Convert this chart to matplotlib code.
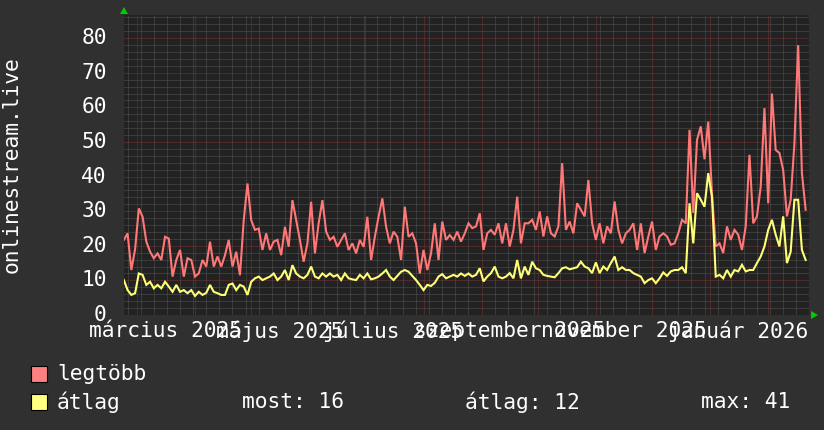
import numpy as np
import matplotlib
matplotlib.use("Agg")
import matplotlib.pyplot as plt
import matplotlib.dates as mdates
from matplotlib.patches import Polygon, Rectangle
import datetime as dt

# ---------------- data ----------------
start_date = "2025-02-22"
step_days = 2

legtobb = [
    21.7, 23.6, 13.0, 19.0, 30.8, 28.4, 21.2, 18.3, 16.4, 17.8,
    15.9, 22.6, 22.1, 11.1, 15.9, 18.8, 11.1, 16.4, 15.9, 11.1,
    12.0, 15.9, 14.0, 21.2, 14.0, 16.9, 14.0, 17.3, 21.7, 14.0,
    18.3, 11.5, 27.4, 38.0, 27.4, 24.6, 25.0, 18.8, 23.6, 18.8,
    21.2, 21.7, 17.3, 25.5, 19.7, 33.2, 27.4, 21.7, 15.4, 20.7,
    32.7, 17.8, 26.5, 33.2, 24.1, 21.7, 22.6, 19.7, 21.7, 23.6,
    18.8, 20.7, 17.8, 21.7, 19.7, 28.4, 15.9, 22.6, 28.4, 33.7,
    25.5, 20.7, 24.1, 22.6, 15.9, 31.3, 22.6, 23.6, 20.7, 12.0,
    18.8, 13.0, 17.8, 26.5, 15.9, 27.0, 21.7, 23.1, 21.7, 24.1,
    21.2, 23.6, 26.5,
    25.1, 25.6, 29.4, 18.8, 23.6, 24.6, 23.2, 26.5, 20.7, 26.5,
    19.8, 24.6, 34.2, 20.7, 26.5, 26.5, 27.5, 24.6, 29.9, 22.7,
    28.5, 23.6, 22.7, 25.6, 43.9, 24.6, 27.0, 23.6, 32.3, 30.4,
    28.5, 39.0, 26.5, 21.7, 26.5, 20.7, 25.6, 23.6, 32.8, 24.6,
    20.7, 23.6, 24.6, 26.5, 18.8, 26.5, 17.9, 22.7, 27.0, 18.8,
    22.7, 23.6, 22.7, 20.3, 20.7, 23.6, 27.5, 26.5, 53.5, 29.5,
    50.6, 54.5, 45.0, 55.9, 35.0, 19.8, 20.7, 17.9, 25.6, 21.7,
    24.6, 23.2, 18.8, 25.6, 46.3, 26.5, 28.5, 37.1, 59.8, 32.3,
    64.0, 47.7, 46.8, 41.9, 28.5, 33.3, 49.6, 78.0, 41.0, 30.4,
]

atlag = [
    10.1, 7.2, 5.8, 6.3, 12.0, 11.6, 8.7, 9.6, 7.7, 8.7,
    7.7, 9.6, 8.2, 6.7, 8.7, 6.7, 7.2, 6.3, 7.2, 5.5,
    6.7, 5.8, 6.4, 8.7, 6.7, 6.3, 5.8, 5.8, 8.7, 9.1,
    7.2, 8.7, 8.2, 5.8, 9.6, 10.6, 11.1, 10.1, 10.6, 11.1,
    12.0, 10.1, 11.1, 13.0, 10.1, 14.4, 12.0, 11.1, 10.6, 11.6,
    14.0, 11.1, 10.6, 12.0, 11.1, 12.0, 11.1, 11.6, 10.1, 12.0,
    10.6, 10.3, 10.1, 11.6, 10.6, 12.0, 10.3, 10.6, 11.1, 12.0,
    13.0, 11.1, 10.1, 11.3, 12.5, 13.0, 12.5, 11.3, 10.1, 8.7,
    7.2, 8.7, 8.4, 9.3, 11.1, 11.8, 10.6, 11.1, 11.6, 11.1,
    12.0, 11.3, 12.0,
    11.1, 11.6, 13.5, 9.7, 11.1, 12.1, 14.0, 11.1, 10.6, 11.1,
    12.1, 10.6, 15.9, 10.6, 14.0, 11.6, 15.4, 13.5, 13.0, 11.6,
    11.3, 11.1, 10.9, 12.1, 13.5, 13.8, 13.2, 13.5, 13.8, 15.4,
    14.0, 13.5, 12.1, 15.2, 12.1, 14.0, 13.0, 15.0, 16.9, 13.0,
    13.8, 13.0, 13.0, 12.1, 11.6, 11.1, 9.2, 10.1, 10.6, 9.2,
    10.6, 12.3, 11.3, 12.6, 13.0, 13.0, 13.8, 12.1, 32.3, 20.7,
    35.2, 33.3, 31.3, 41.0, 34.0, 11.1, 11.6, 10.6, 13.0, 11.1,
    13.0, 12.6, 14.5, 12.6, 13.0, 13.0, 15.0, 16.9, 19.8, 24.6,
    27.5, 23.2, 19.8, 28.5, 15.0, 18.3, 33.3, 33.3, 18.8, 15.9,
]

series_labels = ["legtöbb", "átlag"]
ylabel_text = "onlinestream.live"
month_labels = ["március 2025", "május 2025", "július 2025",
                "szeptember 2025", "november 2025", "január 2026"]
label_months = [(2025, 3), (2025, 5), (2025, 7), (2025, 9), (2025, 11), (2026, 1)]
stats_labels = ["most: 16", "átlag: 12", "max: 41"]
yticks = [0, 10, 20, 30, 40, 50, 60, 70, 80]

# ---------------- style ----------------
W, H = 824, 430
DPI = 100
BG = "#303030"
PLOT_BG = "#222222"
RED = "#ff7777"
YEL = "#ffff77"
MINOR = "#555555"
MAJOR = "#7a3333"
FONT = "DejaVu Sans Mono"
FS = 15.3

fig = plt.figure(figsize=(W / DPI, H / DPI), dpi=DPI, facecolor=BG)

px_left, px_right, px_top, px_bottom = 124, 809, 15, 315
ax = fig.add_axes([px_left / W, 1 - px_bottom / H,
                   (px_right - px_left) / W, (px_bottom - px_top) / H])
ax.set_facecolor(PLOT_BG)

start = dt.datetime.fromisoformat(start_date)
dates = [start + dt.timedelta(days=step_days * i) for i in range(len(legtobb))]
x0 = mdates.date2num(dt.datetime(2025, 2, 22, 2))
x1 = x0 + 365.7
ax.set_xlim(x0, x1)
ax.set_ylim(0, 86.7)

# grid: horizontal
lw_grid = 0.72
for v in np.arange(2, 87, 2):
    if v % 10 == 0:
        continue
    ax.axhline(v, color=MINOR, lw=lw_grid, ls=(0, (1, 1)), zorder=1)
# vertical weekly (Mondays)
d = dt.datetime(2025, 2, 24)
while mdates.date2num(d) < x1:
    if d.day != 1:
        ax.axvline(mdates.date2num(d), color=MINOR, lw=lw_grid, ls=(0, (1, 1)), zorder=1)
    d += dt.timedelta(days=7)
# major
for v in yticks[1:]:
    ax.axhline(v, color=MAJOR, lw=lw_grid, ls=(0, (1, 1)), zorder=2)
month_starts = []
y, m = 2025, 3
while True:
    dd = dt.datetime(y, m, 1)
    if mdates.date2num(dd) > x1:
        break
    month_starts.append(dd)
    m += 1
    if m > 12:
        m = 1
        y += 1
for dd in month_starts:
    ax.axvline(mdates.date2num(dd), color=MAJOR, lw=lw_grid, ls=(0, (1, 1)), zorder=2)

# data
ax.plot(dates, legtobb, color=RED, lw=1.5, zorder=4, solid_joinstyle="miter")
ax.plot(dates, atlag, color=YEL, lw=1.5, zorder=5, solid_joinstyle="miter")

for s in ax.spines.values():
    s.set_visible(False)
ax.set_xticks([])
ax.set_yticks([])

# y tick labels
for v in yticks:
    ax.text(-0.025, v, str(v), transform=ax.get_yaxis_transform(),
            ha="right", va="center", color="white", fontsize=FS, family=FONT)

# x labels centered on mid month (month start + 15 days)
for (yy, mm), lab in zip(label_months, month_labels):
    xc = mdates.date2num(dt.datetime(yy, mm, 1)) + 15
    ax.text(xc, -16 / 300, lab, transform=ax.get_xaxis_transform(),
            ha="center", va="center", color="white", fontsize=FS, family=FONT)

# y axis title
fig.text(12 / W, 1 - 165 / H, ylabel_text, rotation=90, ha="center", va="center",
         color="white", fontsize=FS, family=FONT)

# arrows
def fp(x, y):
    return (x / W, 1 - y / H)

fig.patches.append(Polygon([fp(120, 14), fp(128, 14), fp(124, 7)], closed=True,
                           transform=fig.transFigure, facecolor="#00cc00",
                           edgecolor="none"))
fig.patches.append(Polygon([fp(811, 311), fp(811, 319), fp(818, 315)], closed=True,
                           transform=fig.transFigure, facecolor="#00cc00",
                           edgecolor="none"))

# legend
colors = ["#ff8080", "#ffff80"]
rows_y = [374, 402]
for lab, col, yc in zip(series_labels, colors, rows_y):
    fig.patches.append(Rectangle(fp(31, yc + 8), 16 / W, 16 / H,
                                 transform=fig.transFigure, facecolor=col,
                                 edgecolor="black", lw=0.8))
    fig.text(57 / W, 1 - yc / H, lab, ha="left", va="center", color="white",
             fontsize=FS, family=FONT)
for lab, xs in zip(stats_labels, [242, 465, 701]):
    fig.text(xs / W, 1 - rows_y[1] / H, lab, ha="left", va="center", color="white",
             fontsize=FS, family=FONT)

fig.savefig("out.png", dpi=DPI, facecolor=BG)
